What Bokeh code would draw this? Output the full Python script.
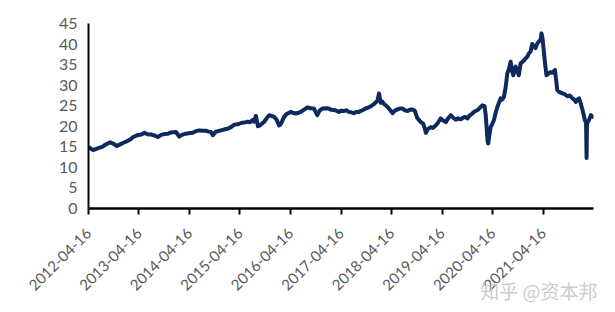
import math
import pandas as pd
from bokeh.plotting import figure
from bokeh.models import Range1d, FixedTicker, DatetimeTickFormatter, Title
from bokeh.embed import file_html
from bokeh.resources import INLINE

dates = [
    "2012-04-16", "2012-05-06", "2012-05-20", "2012-06-25", "2012-07-24", "2012-08-15",
    "2012-09-20", "2012-10-12", "2012-11-07", "2012-12-01", "2012-12-25", "2013-01-21",
    "2013-02-12", "2013-03-05", "2013-04-01", "2013-05-02", "2013-05-26", "2013-06-22",
    "2013-07-13", "2013-08-04", "2013-08-30", "2013-09-23", "2013-10-16", "2013-11-12",
    "2013-12-03", "2014-01-08", "2014-02-01", "2014-02-20", "2014-03-21", "2014-04-11",
    "2014-05-08", "2014-06-01", "2014-06-25", "2014-07-22", "2014-08-12", "2014-09-03",
    "2014-09-18", "2014-10-02", "2014-10-24", "2014-11-07", "2014-11-29", "2014-12-21",
    "2015-01-17", "2015-02-10", "2015-03-06", "2015-04-02", "2015-04-23", "2015-05-15",
    "2015-06-10", "2015-06-27", "2015-07-16", "2015-07-26", "2015-08-09", "2015-08-24",
    "2015-09-07", "2015-10-08", "2015-10-27", "2015-11-13", "2015-11-25", "2015-12-19",
    "2016-01-07", "2016-01-24", "2016-02-05", "2016-02-29", "2016-03-19", "2016-04-18",
    "2016-05-02", "2016-05-24", "2016-06-14", "2016-06-29", "2016-07-20", "2016-08-16",
    "2016-09-08", "2016-10-02", "2016-10-26", "2016-11-12", "2016-12-01", "2016-12-25",
    "2017-01-17", "2017-02-06", "2017-03-06", "2017-03-30", "2017-04-18", "2017-05-05",
    "2017-05-25", "2017-06-10", "2017-06-30", "2017-07-17", "2017-08-06", "2017-08-22",
    "2017-09-11", "2017-09-28", "2017-10-18", "2017-11-03", "2017-11-23", "2017-12-10",
    "2017-12-22", "2018-01-04", "2018-01-15", "2018-01-28", "2018-02-08", "2018-02-21",
    "2018-03-18", "2018-04-04", "2018-04-23", "2018-05-10", "2018-05-29", "2018-06-15",
    "2018-07-04", "2018-07-21", "2018-08-10", "2018-08-26", "2018-09-15", "2018-10-01",
    "2018-10-08", "2018-10-19", "2018-11-01", "2018-11-14", "2018-11-30", "2018-12-12",
    "2018-12-20", "2019-01-03", "2019-01-25", "2019-02-08", "2019-03-01", "2019-03-16",
    "2019-04-06", "2019-04-21", "2019-05-13", "2019-05-27", "2019-06-18", "2019-07-02",
    "2019-07-24", "2019-08-07", "2019-08-29", "2019-09-12", "2019-09-29", "2019-10-16",
    "2019-11-01", "2019-11-21", "2019-12-07", "2019-12-27", "2020-01-12", "2020-02-01",
    "2020-02-17", "2020-02-25", "2020-03-03", "2020-03-10", "2020-03-15", "2020-03-22",
    "2020-04-01", "2020-04-12", "2020-04-25", "2020-05-08", "2020-05-20", "2020-05-29",
    "2020-06-13", "2020-06-23", "2020-07-06", "2020-07-19", "2020-07-31", "2020-08-09",
    "2020-08-24", "2020-09-03", "2020-09-12", "2020-09-21", "2020-09-29", "2020-10-09",
    "2020-10-22", "2020-11-04", "2020-11-22", "2020-12-10", "2020-12-24", "2021-01-02",
    "2021-01-15", "2021-01-27", "2021-02-05", "2021-02-20", "2021-03-02", "2021-03-15",
    "2021-03-28", "2021-04-04", "2021-04-11", "2021-04-20", "2021-04-29", "2021-05-10",
    "2021-05-25", "2021-06-08", "2021-06-23", "2021-07-10", "2021-07-18", "2021-07-27",
    "2021-08-13", "2021-09-02", "2021-09-18", "2021-10-08", "2021-10-25", "2021-11-14",
    "2021-11-27", "2021-12-08", "2021-12-19", "2022-01-01", "2022-01-13", "2022-01-26",
    "2022-02-04", "2022-02-11", "2022-02-20", "2022-02-24", "2022-02-27", "2022-03-05",
    "2022-03-13", "2022-03-27", "2022-04-09", "2022-04-15",
]

values = [
    15.0, 14.5, 14.2, 14.7, 15.0, 15.5,
    16.1, 15.8, 15.2, 15.6, 16.0, 16.4,
    16.8, 17.4, 17.8, 18.0, 18.4, 18.0,
    18.0, 17.8, 17.4, 17.9, 18.1, 18.2,
    18.5, 18.6, 17.5, 17.9, 18.2, 18.3,
    18.4, 18.8, 19.0, 18.9, 18.9, 18.7,
    18.6, 17.8, 18.7, 18.8, 19.0, 19.2,
    19.4, 19.8, 20.4, 20.5, 20.8, 20.9,
    21.1, 21.0, 21.5, 21.1, 22.5, 20.0,
    20.2, 21.1, 22.0, 22.7, 22.6, 22.3,
    21.5, 20.2, 20.5, 22.3, 23.0, 23.5,
    23.3, 23.1, 23.3, 23.5, 24.0, 24.6,
    24.4, 24.3, 22.7, 23.8, 24.3, 24.4,
    24.3, 24.0, 23.9, 23.5, 23.8, 23.7,
    23.9, 23.5, 23.4, 23.2, 23.5, 23.5,
    23.8, 24.1, 24.4, 24.6, 25.0, 25.4,
    25.8, 26.2, 28.0, 25.7, 26.0, 25.4,
    24.7, 24.0, 23.2, 23.8, 24.1, 24.3,
    24.3, 23.9, 23.7, 24.0, 24.1, 23.8,
    23.1, 22.0, 21.5, 21.0, 20.7, 19.5,
    18.4, 19.3, 19.8, 19.6, 20.2, 20.8,
    21.9, 21.5, 21.0, 21.8, 22.7, 22.2,
    21.6, 21.9, 21.7, 22.0, 22.3, 21.9,
    22.6, 23.1, 23.6, 23.9, 24.4, 25.1,
    24.9, 23.0, 19.8, 16.5, 15.8, 17.5,
    19.8, 20.5, 21.5, 23.3, 24.7, 25.5,
    26.8, 26.5, 27.1, 29.5, 32.9, 33.6,
    35.7, 33.5, 32.4, 33.7, 34.5, 33.6,
    32.4, 35.3, 35.8, 36.5, 37.0, 37.7,
    38.2, 40.0, 39.5, 39.0, 40.0, 40.6,
    41.0, 42.6, 41.5, 38.5, 35.5, 32.4,
    32.8, 33.2, 33.0, 33.7, 31.5, 28.8,
    28.3, 28.0, 27.8, 27.3, 27.5, 26.8,
    26.5, 25.9, 26.5, 26.8, 25.5, 23.9,
    22.7, 21.5, 21.0, 12.3, 20.7, 21.0,
    21.5, 22.7, 22.3, 22.8,
]

tick_dates = [
    "2012-04-16", "2013-04-16", "2014-04-16", "2015-04-16", "2016-04-16",
    "2017-04-16", "2018-04-16", "2019-04-16", "2020-04-16", "2021-04-16",
]
y_ticks = [0, 5, 10, 15, 20, 25, 30, 35, 40, 45]
watermark = "知乎 @资本邦"

x = pd.to_datetime(dates)
tick_ms = [pd.Timestamp(d).value / 1e6 for d in tick_dates]
x_start = pd.Timestamp(dates[0]).value / 1e6
x_end = pd.Timestamp(dates[-1]).value / 1e6

FONT = "Lato"
LABEL_COLOR = "#595959"

p = figure(
    width=615, height=312, x_axis_type="datetime",
    output_backend="svg", toolbar_location=None,
    min_border_left=88, min_border_right=22, min_border_top=23, min_border_bottom=104,
    x_range=Range1d(x_start, x_end), y_range=Range1d(0, 45),
)
p.outline_line_color = None
p.xgrid.visible = False
p.ygrid.visible = False

p.line(x, values, line_color="#0c2a5e", line_width=4, line_join="round")

# x axis
xa = p.xaxis[0]
xa.ticker = FixedTicker(ticks=tick_ms)
fmt = "%Y-%m-%d"
xa.formatter = DatetimeTickFormatter(
    milliseconds=fmt, seconds=fmt, minsec=fmt, minutes=fmt, hourmin=fmt,
    hours=fmt, days=fmt, months=fmt, years=fmt,
)
xa.major_label_orientation = math.pi / 4
xa.axis_line_color = "black"
xa.axis_line_width = 2.5
xa.major_tick_line_color = "black"
xa.major_tick_line_width = 2
xa.major_tick_in = 0
xa.major_tick_out = 6
xa.minor_tick_line_color = None
xa.major_label_text_font = FONT
xa.major_label_text_font_size = "15px"
xa.major_label_text_color = LABEL_COLOR
xa.major_label_standoff = 16

# y axis
ya = p.yaxis[0]
ya.ticker = FixedTicker(ticks=y_ticks)
ya.axis_line_color = "black"
ya.axis_line_width = 2
ya.major_tick_line_color = None
ya.major_tick_in = 0
ya.major_tick_out = 0
ya.minor_tick_line_color = None
ya.major_label_text_font = FONT
ya.major_label_text_font_size = "16px"
ya.major_label_text_color = LABEL_COLOR
ya.major_label_standoff = 11

# watermark below the axis, right-aligned
p.add_layout(Title(
    text=watermark, align="right", vertical_align="top", standoff=-44, offset=-4,
    text_font="Noto Sans CJK SC", text_font_style="normal",
    text_font_size="19px", text_color="#cccccc",
), "below")

open("out.html", "w").write(file_html(p, INLINE))
